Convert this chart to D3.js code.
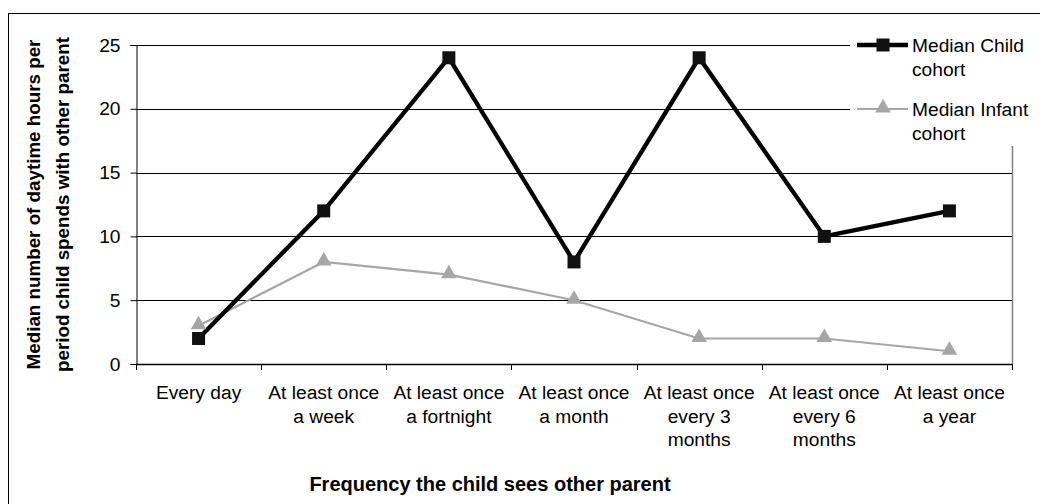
<!DOCTYPE html>
<html>
<head>
<meta charset="utf-8">
<script src="https://cdn.jsdelivr.net/npm/d3@7"></script>
<style>
  html, body { margin: 0; padding: 0; background: #fff; }
  svg { display: block; font-family: "Liberation Sans", Arial, sans-serif; }
</style>
</head>
<body>
<svg id="chart" width="1040" height="504"></svg>
<script>
// Categories (each label split into its wrapped lines)
const categories = [
  ["Every day"],
  ["At least once", "a week"],
  ["At least once", "a fortnight"],
  ["At least once", "a month"],
  ["At least once", "every 3", "months"],
  ["At least once", "every 6", "months"],
  ["At least once", "a year"]
];
const childValues  = [2, 12, 24, 8, 24, 10, 12];
const infantValues = [3, 8, 7, 5, 2, 2, 1];
const yTicks = [0, 5, 10, 15, 20, 25];
const seriesNames = [["Median Child", "cohort"], ["Median Infant", "cohort"]];
const yTitle = ["Median number of daytime hours per", "period child spends with other parent"];
const xTitle = "Frequency the child sees other parent";

const svg = d3.select("#chart");
const W = 1040, H = 504;
const plot = { left: 136, right: 1012, top: 45, bottom: 364 };
const labelSize = "19.2px";

// Outer chart frame (extends past the right and bottom edges)
svg.append("rect")
  .attr("x", 8.5).attr("y", 13.5)
  .attr("width", W + 20).attr("height", H + 20)
  .attr("fill", "#fff").attr("stroke", "#000").attr("stroke-width", 1);

const x = d3.scaleBand()
  .domain(d3.range(categories.length))
  .range([plot.left, plot.right])
  .paddingInner(0).paddingOuter(0);
const y = d3.scaleLinear().domain([0, 25]).range([plot.bottom, plot.top]);
const cx = i => x(i) + x.bandwidth() / 2;

// Plot area right edge
svg.append("line")
  .attr("x1", plot.right + 0.5).attr("x2", plot.right + 0.5)
  .attr("y1", plot.top).attr("y2", plot.bottom)
  .attr("stroke", "#808080").attr("stroke-width", 1.5);

// Horizontal gridlines
svg.append("g").selectAll("line")
  .data(yTicks.filter(d => d > 0))
  .join("line")
  .attr("x1", plot.left).attr("x2", plot.right)
  .attr("y1", d => Math.round(y(d)) + 0.5).attr("y2", d => Math.round(y(d)) + 0.5)
  .attr("stroke", "#000").attr("stroke-width", 1);

// Y axis
const yAxis = svg.append("g")
  .attr("transform", `translate(${plot.left + 0.5},0)`)
  .call(d3.axisLeft(y).tickValues(yTicks).tickSize(6).tickPadding(10).tickFormat(d3.format("d")));
yAxis.select(".domain").attr("stroke", "#000");
yAxis.selectAll(".tick line").attr("stroke", "#000");
yAxis.selectAll(".tick text")
  .attr("font-size", labelSize).attr("fill", "#000")
  .attr("font-family", "'Liberation Sans', Arial, sans-serif");

// X axis (ticks on category boundaries)
const xLine = svg.append("g");
xLine.append("line")
  .attr("x1", plot.left).attr("x2", plot.right)
  .attr("y1", plot.bottom + 0.5).attr("y2", plot.bottom + 0.5)
  .attr("stroke", "#000").attr("stroke-width", 1.5);
xLine.selectAll("line.tick")
  .data(d3.range(categories.length + 1))
  .join("line").attr("class", "tick")
  .attr("x1", i => Math.round(plot.left + i * x.bandwidth()) + 0.5)
  .attr("x2", i => Math.round(plot.left + i * x.bandwidth()) + 0.5)
  .attr("y1", plot.bottom).attr("y2", plot.bottom + 6)
  .attr("stroke", "#000");

// Category labels
const catLabels = svg.append("g")
  .attr("font-size", labelSize).attr("text-anchor", "middle").attr("fill", "#000");
categories.forEach((lines, i) => {
  const t = catLabels.append("text").attr("x", cx(i)).attr("y", 399);
  lines.forEach((ln, k) => {
    t.append("tspan").attr("x", cx(i)).attr("dy", k === 0 ? 0 : 23.5).text(ln);
  });
});

// Series lines
const line = d3.line().x((d, i) => cx(i)).y(d => y(d));
svg.append("path").datum(infantValues)
  .attr("d", line).attr("fill", "none")
  .attr("stroke", "#a6a6a6").attr("stroke-width", 2.2);
svg.append("path").datum(childValues)
  .attr("d", line).attr("fill", "none")
  .attr("stroke", "#000").attr("stroke-width", 4.3).attr("stroke-linejoin", "miter");

// Markers
const tri = d3.symbol().type(d3.symbolTriangle).size(105);
svg.append("g").selectAll("path")
  .data(infantValues).join("path")
  .attr("d", tri)
  .attr("transform", (d, i) => `translate(${cx(i)},${y(d) - 1})`)
  .attr("fill", "#a6a6a6");
svg.append("g").selectAll("rect")
  .data(childValues).join("rect")
  .attr("x", (d, i) => cx(i) - 6.5).attr("y", d => y(d) - 6.5)
  .attr("width", 13).attr("height", 13)
  .attr("fill", "#111");

// Legend
const legend = svg.append("g");
legend.append("rect")
  .attr("x", 850).attr("y", 28).attr("width", 190).attr("height", 118)
  .attr("fill", "#fff");
const legY = [45, 109];
// child entry
legend.append("line").attr("x1", 857).attr("x2", 908).attr("y1", legY[0]).attr("y2", legY[0])
  .attr("stroke", "#000").attr("stroke-width", 4.3);
legend.append("rect").attr("x", 883 - 6.5).attr("y", legY[0] - 6.5)
  .attr("width", 13).attr("height", 13).attr("fill", "#111");
// infant entry
legend.append("line").attr("x1", 857).attr("x2", 908).attr("y1", legY[1]).attr("y2", legY[1])
  .attr("stroke", "#a6a6a6").attr("stroke-width", 2.2);
legend.append("path").attr("d", tri)
  .attr("transform", `translate(883,${legY[1] - 1})`).attr("fill", "#a6a6a6");
seriesNames.forEach((lines, s) => {
  const t = legend.append("text")
    .attr("x", 912).attr("y", legY[s] + 6.5)
    .attr("font-size", labelSize).attr("fill", "#000");
  lines.forEach((ln, k) => {
    t.append("tspan").attr("x", 912).attr("dy", k === 0 ? 0 : 24).text(ln);
  });
});

// Axis titles
const yt = svg.append("text")
  .attr("transform", `translate(33,${(plot.top + plot.bottom) / 2}) rotate(-90)`)
  .attr("text-anchor", "middle").attr("font-weight", "bold")
  .attr("font-size", "18.8px").attr("fill", "#000");
yTitle.forEach((ln, k) => {
  yt.append("tspan").attr("x", 0).attr("y", 0).attr("dy", 6.5 + k * 29.5).text(ln);
});

svg.append("text")
  .attr("x", 490).attr("y", 491)
  .attr("text-anchor", "middle").attr("font-weight", "bold")
  .attr("font-size", "20px").attr("fill", "#000")
  .text(xTitle);
</script>
</body>
</html>
